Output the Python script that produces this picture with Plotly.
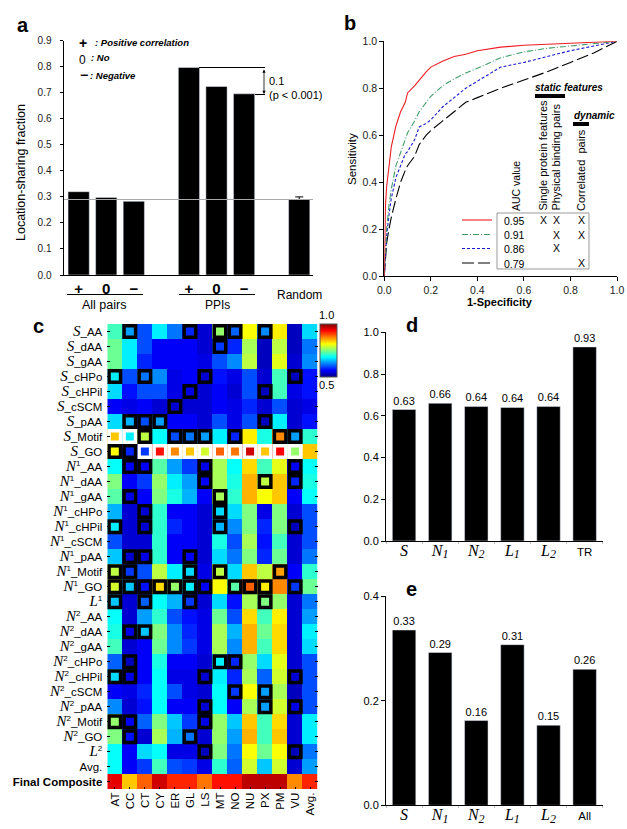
import plotly.graph_objects as go

W, H = 627, 829
SANS = "Liberation Sans"
SERIF = "Liberation Serif"

# ---------- panel a ----------
a_pos = [0, 1, 2, 4, 5, 6]
a_labels = ["+", "0", "−", "+", "0", "−"]
a_values = [0.32, 0.298, 0.283, 0.797, 0.724, 0.696]
random_pos = [8]
random_value = [0.29]
random_err = [0.01]

# ---------- panel b ----------
roc_x = [0, .005, .01, .02, .03, .05, .07, .09, .1, .13, .15, .18, .2, .25, .3, .35, .4, .5, .6, .7, .8, .9, 1]
roc_red = [0, .3, .38, .48, .55, .64, .70, .74, .78, .81, .835, .87, .89, .915, .935, .945, .96, .975, .983, .987, .99, .995, 1]
roc_green = [0, .12, .2, .3, .37, .47, .53, .58, .61, .66, .70, .74, .765, .81, .84, .865, .885, .93, .955, .97, .98, .99, 1]
roc_blue = [0, .1, .17, .26, .33, .42, .47, .52, .53, .58, .635, .65, .665, .72, .76, .80, .83, .89, .91, .935, .96, .98, 1]
roc_black = [0, .08, .14, .2, .25, .33, .40, .45, .47, .51, .56, .60, .62, .66, .70, .74, .76, .80, .835, .87, .91, .95, 1]
auc_values = ["0.95", "0.91", "0.86", "0.79"]

# ---------- panel c ----------
c_columns = ["AT", "CC", "CT", "CY", "ER", "GL", "LS", "MT", "NO", "NU", "PX", "PM", "VU", "Avg."]
feature_names = ["AA", "dAA", "gAA", "cHPo", "cHPil", "cSCM", "pAA", "Motif", "GO"]
c_values = [
    [.72, .64, .60, .68, .62, .58, .54, .76, .61, .81, .63, .82, .53, .67],
    [.74, .68, .60, .56, .56, .56, .54, .59, .58, .77, .53, .78, .53, .62],
    [.74, .68, .58, .56, .56, .56, .55, .60, .63, .78, .53, .80, .54, .63],
    [.68, .60, .62, .63, .55, .56, .54, .57, .55, .60, .54, .72, .53, .57],
    [.67, .57, .60, .60, .55, .55, .54, .56, .54, .60, .53, .72, .55, .57],
    [.56, .55, .56, .54, .54, .54, .54, .56, .55, .58, .54, .60, .54, .55],
    [.67, .65, .60, .64, .56, .56, .54, .60, .55, .60, .53, .68, .54, .57],
    [.84, .68, .78, .69, .60, .62, .64, .68, .58, .82, .70, .87, .64, .71],
    [.81, .58, .59, .93, .87, .84, .79, .89, .88, .96, .84, .94, .76, .84],
    [.69, .56, .56, .73, .64, .59, .55, .77, .69, .83, .72, .80, .56, .69],
    [.75, .56, .59, .76, .68, .64, .56, .77, .70, .85, .78, .84, .58, .70],
    [.73, .55, .56, .75, .70, .65, .56, .77, .71, .85, .81, .84, .56, .69],
    [.65, .54, .54, .71, .56, .56, .54, .67, .67, .75, .55, .75, .54, .60],
    [.68, .54, .54, .71, .58, .56, .54, .65, .63, .75, .58, .75, .53, .60],
    [.60, .54, .54, .71, .56, .56, .54, .70, .60, .77, .57, .72, .54, .60],
    [.66, .54, .55, .71, .56, .56, .54, .67, .62, .75, .58, .74, .54, .62],
    [.78, .59, .60, .78, .68, .67, .55, .78, .67, .84, .78, .86, .56, .71],
    [.79, .66, .57, .83, .76, .68, .56, .81, .73, .89, .82, .87, .59, .74],
    [.66, .54, .61, .69, .65, .59, .54, .67, .57, .77, .75, .76, .54, .62],
    [.69, .54, .64, .71, .60, .57, .55, .74, .60, .83, .72, .82, .54, .64],
    [.70, .55, .66, .75, .63, .58, .55, .77, .65, .85, .74, .83, .54, .68],
    [.72, .54, .56, .74, .63, .59, .55, .77, .63, .85, .72, .83, .54, .67],
    [.61, .53, .56, .70, .56, .56, .54, .68, .58, .76, .67, .80, .54, .60],
    [.67, .55, .56, .69, .55, .55, .54, .68, .58, .77, .61, .79, .54, .60],
    [.56, .55, .58, .69, .60, .55, .54, .69, .59, .81, .64, .77, .53, .60],
    [.63, .54, .57, .69, .56, .56, .54, .69, .56, .77, .64, .79, .55, .60],
    [.76, .56, .61, .75, .66, .59, .55, .76, .66, .84, .72, .83, .54, .68],
    [.75, .57, .54, .77, .65, .62, .54, .76, .64, .85, .72, .84, .54, .68],
    [.69, .56, .67, .69, .55, .55, .53, .75, .62, .81, .74, .81, .53, .62],
    [.69, .56, .59, .72, .60, .59, .55, .71, .61, .79, .66, .79, .54, .64],
    [.95, .84, .89, .96, .92, .92, .88, .93, .93, .97, .97, .97, .87, .92],
]
# cells framed in black: row -> columns
black_frames = {
    0: [1, 5, 7, 8, 10], 1: [7], 3: [0, 2, 6, 12], 4: [5, 10], 5: [4], 6: [1, 2, 3, 10],
    7: [2, 4, 5, 6, 8, 11, 12], 8: [0, 1], 9: [1, 2, 6, 12], 10: [6, 10, 12], 11: [1, 7],
    12: [2, 7], 13: [0, 2, 7, 12], 15: [1, 2, 5], 16: [0, 1, 5, 7, 11],
    17: [0, 1, 2, 3, 4, 5, 6, 8, 9, 10, 12], 18: [0, 2, 5, 10], 20: [1, 2], 22: [1, 7, 8],
    23: [0, 1, 6, 12], 24: [8, 10], 25: [6, 10, 12], 26: [0, 1, 6], 27: [1, 5], 28: [6, 12],
}
# cells framed in white: row -> columns
white_frames = {7: [0, 1], 8: [2, 3, 4, 5, 6, 7, 8, 9, 10, 11, 12]}

# ---------- panels d, e ----------
d_labels = ["S", "N1", "N2", "L1", "L2", "TR"]
d_values = [0.63, 0.66, 0.645, 0.64, 0.645, 0.93]
d_text = ["0.63", "0.66", "0.64", "0.64", "0.64", "0.93"]
e_labels = ["S", "N1", "N2", "L1", "L2", "All"]
e_values = [0.335, 0.292, 0.162, 0.307, 0.153, 0.26]
e_text = ["0.33", "0.29", "0.16", "0.31", "0.15", "0.26"]


def px(x):
    return x / W


def py(y):
    return 1 - y / H


def dom_x(a, b):
    return [px(a), px(b)]


def dom_y(top, bottom):
    return [py(bottom), py(top)]


annotations = []
shapes = []


def note(x, y, text, size=10, xanchor="center", yanchor="middle", angle=0, color="black", family=SANS):
    annotations.append(dict(x=px(x), y=py(y), xref="paper", yref="paper", text=text, showarrow=False,
                            xanchor=xanchor, yanchor=yanchor, textangle=angle,
                            font=dict(size=size, color=color, family=family), borderpad=0, borderwidth=0))


def line(x0, y0, x1, y1, color="black", width=1, dash="solid"):
    shapes.append(dict(type="line", xref="paper", yref="paper", x0=px(x0), y0=py(y0), x1=px(x1), y1=py(y1),
                       line=dict(color=color, width=width, dash=dash)))


def serif_i(s, size=14):
    return f'<i><span style="font-family:{SERIF};font-size:{size}px">{s}</span></i>'


def row_label(prefix, name):
    return f"{prefix}_{name}"


S = serif_i("S", 15)
N1 = serif_i("N", 15) + "<sup>1</sup>"
N2 = serif_i("N", 15) + "<sup>2</sup>"
c_rows = ([row_label(S, n) for n in feature_names] + [row_label(N1, n) for n in feature_names]
          + [serif_i("L", 15) + "<sup>1</sup>"] + [row_label(N2, n) for n in feature_names]
          + [serif_i("L", 15) + "<sup>2</sup>", "Avg.", "<b>Final Composite</b>"])


def sublabel(lbl):
    if lbl in ("TR", "All"):
        return lbl
    if len(lbl) == 1:
        return serif_i(lbl, 16)
    return serif_i(lbl[0], 16) + "<sub>" + serif_i(lbl[1], 12) + "</sub>"


jet = [[0, "rgb(0,0,131)"], [.125, "rgb(0,0,255)"], [.375, "rgb(0,255,255)"],
       [.625, "rgb(255,255,0)"], [.875, "rgb(255,0,0)"], [1, "rgb(128,0,0)"]]

fig = go.Figure()

# panel a
fig.add_trace(go.Bar(x=a_pos, y=a_values, width=0.77, marker_color="black", xaxis="x", yaxis="y", showlegend=False))
fig.add_trace(go.Bar(x=random_pos, y=random_value, width=0.77, marker_color="black", xaxis="x", yaxis="y",
                     showlegend=False,
                     error_y=dict(type="data", array=random_err, symmetric=False, color="black", thickness=1, width=4)))

# panel b
for vals, col, dash in [(roc_black, "black", "12px,4px"), (roc_blue, "#1a1acc", "3px,2px"),
                        (roc_green, "#3f9d6a", "6px,2px,1px,2px"), (roc_red, "#ee1c25", "solid")]:
    fig.add_trace(go.Scatter(x=roc_x, y=vals, mode="lines", line=dict(color=col, width=1.1, dash=dash),
                             xaxis="x2", yaxis="y2", showlegend=False))

# panel c
fig.add_trace(go.Heatmap(z=c_values, x=list(range(14)), y=list(range(31)), colorscale=jet, zmin=0.5, zmax=1.0,
                         xaxis="x3", yaxis="y3", xgap=0, ygap=0,
                         colorbar=dict(x=px(320), xanchor="left", y=py(350.5), yanchor="middle",
                                       lenmode="pixels", len=52.5, thicknessmode="pixels", thickness=17,
                                       showticklabels=False, ticks="", xpad=0, ypad=0,
                                       outlinewidth=1, outlinecolor="#555")))
for frames, col in [(white_frames, "white"), (black_frames, "black")]:
    xs, ys, cs = [], [], []
    for r, cols in frames.items():
        for c in cols:
            xs.append(c)
            ys.append(r)
            cs.append(c_values[r][c])
    fig.add_trace(go.Scatter(x=xs, y=ys, mode="markers", xaxis="x3", yaxis="y3", showlegend=False,
                             marker=dict(symbol="square", size=11.5, color=cs, cmin=0.5, cmax=1.0,
                                         colorscale=jet, showscale=False,
                                         line=dict(color=col, width=3.5))))

# panels d, e
fig.add_trace(go.Bar(x=list(range(6)), y=d_values, text=d_text, textposition="outside", width=0.65,
                     marker_color="black", xaxis="x4", yaxis="y4", showlegend=False, cliponaxis=False,
                     textfont=dict(size=11, family=SANS, color="black")))
fig.add_trace(go.Bar(x=list(range(6)), y=e_values, text=e_text, textposition="outside", width=0.65,
                     marker_color="black", xaxis="x5", yaxis="y5", showlegend=False, cliponaxis=False,
                     textfont=dict(size=11, family=SANS, color="black")))

# ---------- panel a decorations ----------
line(64, 199.5, 313, 199.5, color="#aaaaaa", width=1)
line(199, 67.5, 265, 67.5)
line(255, 94.5, 265, 94.5)
annotations.append(dict(x=px(264), y=py(94), xref="paper", yref="paper", ax=0, ay=-26, axref="pixel",
                        ayref="pixel", text="", showarrow=True, arrowhead=2, arrowside="end+start", arrowsize=0.8,
                        arrowwidth=0.8, arrowcolor="black"))
note(269, 81, "0.1", 11, "left")
note(269, 95, "(p &lt; 0.001)", 11, "left")
note(83, 43, "<b>+</b>", 14)
note(95, 42, "<b><i>: Positive correlation</i></b>", 9.5, "left")
note(83, 60, "0", 12)
note(91, 58, "<b><i>: No</i></b>", 9.5, "left")
note(84, 75, "<b>−</b>", 14)
note(90, 75, "<b><i>: Negative</i></b>", 9.5, "left")
line(67, 294.5, 143, 294.5)
line(179, 294.5, 255, 294.5)
note(104, 305, "All pairs", 12.5)
note(217, 305, "PPIs", 12)
note(299, 295, "Random", 12)
note(21, 173, "Location-sharing fraction", 12.5, angle=-90)

# ---------- panel b decorations ----------
note(352, 159, "Sensitivity", 11.5, angle=-90)
note(500, 302, "<b>1-Specificity</b>", 11)
shapes.append(dict(type="rect", xref="paper", yref="paper", x0=px(497), y0=py(269), x1=px(589), y1=py(213),
                   line=dict(color="#999999", width=1)))
for yy, col, dash, auc in [(220, "#ee1c25", "solid", auc_values[0]), (234.5, "#3f9d6a", "6px,2px,1px,2px", auc_values[1]),
                           (248.5, "#1a1acc", "3px,2px", auc_values[2]), (263, "black", "12px,4px", auc_values[3])]:
    line(462, yy, 492, yy, color=col, width=1.1, dash=dash)
    note(514, yy + 0.5, auc, 10.5)
for xx, rows_y in [(543, [220]), (556, [220, 234.5, 248.5]), (581, [220, 234.5, 263])]:
    for yy in rows_y:
        note(xx, yy, "X", 10.5)
note(516, 211, "AUC value", 10.5, yanchor="bottom", angle=-90)
note(543, 211, "Single protein features", 11, yanchor="bottom", angle=-90)
note(556, 211, "Physical binding pairs", 11, yanchor="bottom", angle=-90)
note(581, 211, "Correlated  pairs", 11, yanchor="bottom", angle=-90)
note(569, 87, "<b><i>static features</i></b>", 10)
note(594, 115, "<b><i>dynamic</i></b>", 10)
line(535, 96, 565, 96, width=4)
line(573, 124, 589, 124, width=4)

# ---------- panel c decorations ----------
note(327, 315, "1.0", 11)
note(327, 385, "0.5", 11)

# panel letters
for x, y, t in [(23, 25, "a"), (350, 23, "b"), (38, 326, "c"), (412, 325, "d"), (411, 589, "e")]:
    note(x, y, f"<b>{t}</b>", 20)

tick_font = dict(size=10, family=SANS, color="#222222")
axis_base = dict(showgrid=False, zeroline=False, showline=True, linecolor="black", linewidth=1,
                 ticks="outside", tickcolor="black", tickwidth=1, ticklen=4, tickfont=tick_font)


def bar_x(domain, anchor, labels):
    return dict(axis_base, domain=domain, anchor=anchor, range=[-0.5, 5.5], tickmode="array",
                tickvals=list(range(6)), ticktext=[sublabel(l) for l in labels], ticks="",
                tickfont=dict(size=11.5, family=SANS, color="black"),
                minor=dict(tickmode="array", tickvals=[-.5, .5, 1.5, 2.5, 3.5, 4.5, 5.5], ticks="outside",
                           ticklen=2, tickcolor="#bbbbbb"))


fig.update_layout(
    width=W, height=H, margin=dict(l=0, r=0, t=0, b=0, autoexpand=False), paper_bgcolor="white", plot_bgcolor="white",
    autosize=False, showlegend=False, annotations=annotations, shapes=shapes, barmode="overlay",
    font=dict(family=SANS, color="black"),
    xaxis=dict(axis_base, domain=dom_x(63.5, 313), anchor="y", range=[-0.55, 8.5], tickmode="array",
               tickvals=a_pos, ticktext=[f"<b>{t}</b>" for t in a_labels], ticks="",
               tickfont=dict(size=15, family=SANS, color="black")),
    yaxis=dict(axis_base, domain=dom_y(40.7, 275), anchor="x", range=[0, 0.9], dtick=0.1, tickformat=".1f",
               ticklen=3, ticklabelstandoff=6),
    xaxis2=dict(axis_base, domain=dom_x(384.3, 617), anchor="y2", range=[0, 1], dtick=0.2, tickformat=".1f",
                tickfont=dict(size=10.5, family=SANS, color="#222222")),
    yaxis2=dict(axis_base, domain=dom_y(41.3, 276), anchor="x2", range=[0, 1], dtick=0.2, tickformat=".1f",
                tickfont=dict(size=10.5, family=SANS, color="#222222")),
    xaxis3=dict(domain=dom_x(107.3, 317.7), anchor="y3", range=[-0.5, 13.5], tickmode="array",
                tickvals=list(range(14)), ticktext=c_columns, tickangle=-90, showgrid=False, zeroline=False,
                ticks="inside", ticklen=2, tickcolor="black", showline=False,
                tickfont=dict(size=11.5, family=SANS, color="black")),
    yaxis3=dict(domain=dom_y(324, 789.3), anchor="x3", range=[30.5, -0.5], tickmode="array",
                tickvals=list(range(31)), ticktext=c_rows, showgrid=False, zeroline=False, ticks="inside",
                ticklen=3, tickcolor="black", mirror="ticks", showline=False, ticklabelstandoff=4,
                tickfont=dict(size=11.5, family=SANS, color="black")),
    xaxis4=bar_x(dom_x(386, 602.7), "y4", d_labels),
    yaxis4=dict(axis_base, domain=dom_y(332.3, 541), anchor="x4", range=[0, 1], dtick=0.2, tickformat=".1f",
                tickfont=dict(size=11, family=SANS, color="black")),
    xaxis5=bar_x(dom_x(386, 602.7), "y5", e_labels),
    yaxis5=dict(axis_base, domain=dom_y(596, 805.3), anchor="x5", range=[0, 0.4], dtick=0.2, tickformat=".1f",
                tickfont=dict(size=11, family=SANS, color="black")),
)

fig.write_html("out.html", config={"displayModeBar": False}, post_script="document.body.style.margin='0';")
